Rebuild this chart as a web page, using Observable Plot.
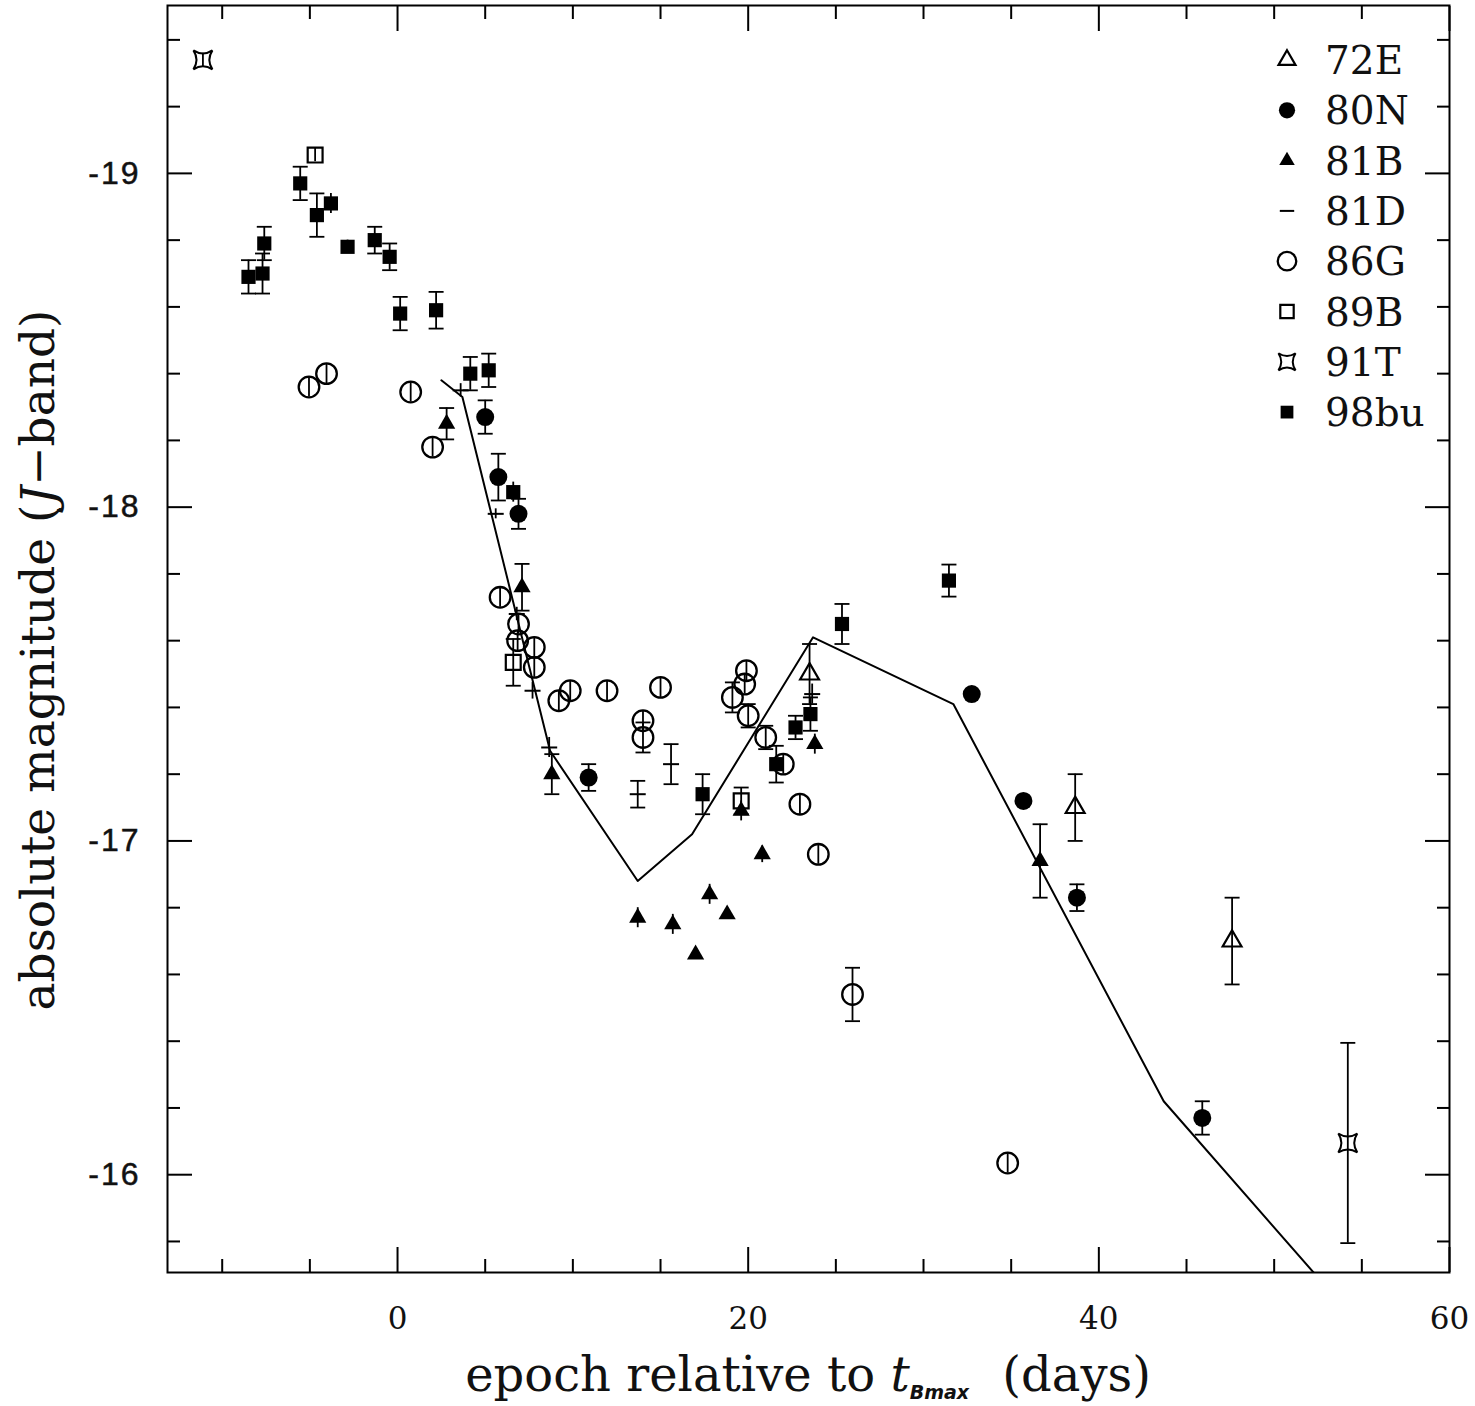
<!DOCTYPE html>
<html><head><meta charset="utf-8">
<script src="https://cdn.jsdelivr.net/npm/d3@7"></script>
<script src="https://cdn.jsdelivr.net/npm/@observablehq/plot@0.6"></script>
<style>
body{margin:0;background:#fff;}
#chart{width:1475px;height:1406px;}
g[aria-label="y-axis tick label"] text{font-family:"Liberation Sans",Arial,sans-serif;font-size:32px;letter-spacing:2px;fill:#111;stroke:#111;stroke-width:0.5px;}
g[aria-label="x-axis tick label"] text{font-family:"DejaVu Serif",serif;font-size:31px;fill:#111;}
</style></head><body><div id="chart"></div>
<script>
// ---- data: [epoch (days rel. to t_Bmax), J absolute magnitude, error] ----
const seriesNames = ["72E","80N","81B","81D","86G","89B","91T","98bu"];
const sn72E = [[23.5,-17.50,0.09],[38.65,-17.10,0.10],[47.6,-16.70,0.13]];
const sn80N = [[5.0,-18.27,0.05],[5.75,-18.09,0.07],[6.9,-17.98,0.045],[10.9,-17.19,0.04],[32.75,-17.44,0.02],[35.7,-17.12,0.02],[38.75,-16.83,0.04],[45.9,-16.17,0.05]];
const sn81B = [[2.8,-18.25,0.047],[7.1,-17.76,0.07],[8.8,-17.2,0.06],[13.7,-16.77,0.03],[15.7,-16.75,0.03],[17.0,-16.66,0.015],[17.8,-16.84,0.03],[18.8,-16.78,0.015],[19.6,-17.09,0.03],[20.8,-16.96,0.025],[23.8,-17.29,0.03],[36.65,-16.94,0.11]];
const sn81D = [[3.6,-18.35,0.02],[5.6,-17.98,0.015],[6.8,-17.68,0.02],[7.7,-17.45,0.025],[8.65,-17.28,0.03],[13.7,-17.14,0.04],[15.6,-17.23,0.06],[23.65,-17.44,0.03]];
const sn86G = [[-5.05,-18.36,0.03],[-4.05,-18.40,0.03],[0.75,-18.345,0.03],[2.0,-18.18,0.03],[5.85,-17.73,0.03],[6.9,-17.65,0.03],[6.85,-17.60,0.03],[7.8,-17.58,0.03],[7.8,-17.52,0.03],[9.2,-17.42,0.03],[9.85,-17.45,0.03],[11.95,-17.45,0.03],[14.0,-17.36,0.03],[14.0,-17.31,0.045],[15.0,-17.46,0.03],[19.1,-17.43,0.045],[19.9,-17.51,0.03],[19.8,-17.47,0.03],[20.0,-17.375,0.035],[21.0,-17.31,0.035],[22.0,-17.23,0.03],[22.95,-17.11,0.03],[24.0,-16.96,0.03],[25.95,-16.54,0.08],[34.8,-16.035,0.03]];
const sn89B = [[-4.7,-19.055,0.02],[6.6,-17.535,0.07],[19.6,-17.12,0.04]];
const sn91T = [[-11.1,-19.34,0.02],[54.2,-16.095,0.30]];
const sn98bu = [[-8.5,-18.69,0.05],[-7.7,-18.70,0.06],[-7.6,-18.79,0.05],[-5.55,-18.97,0.05],[-4.6,-18.875,0.065],[-3.8,-18.91,0.03],[-2.85,-18.78,0.02],[-1.3,-18.80,0.04],[-0.45,-18.75,0.04],[0.15,-18.58,0.05],[2.2,-18.59,0.055],[4.15,-18.40,0.05],[5.2,-18.41,0.05],[6.6,-18.045,0.03],[17.4,-17.14,0.06],[21.6,-17.23,0.055],[22.7,-17.34,0.035],[23.55,-17.38,0.05],[25.35,-17.65,0.06],[31.45,-17.78,0.048]];
// model template (solid line)
const modelEpoch = [2.5, 3.7, 8.7, 13.7, 16.8, 23.7, 31.7, 43.7, 53.2];
const modelMag = [-18.38, -18.33, -17.27, -16.88, -17.02, -17.61, -17.41, -16.22, -15.65];
// ticks
const xMajor = [0, 20, 40, 60];
const xMinor = [-10, -5, 5, 10, 15, 25, 30, 35, 45, 50, 55];
const yMajor = [-19, -18, -17, -16];
const yMinor = [-19.4, -19.2, -18.8, -18.6, -18.4, -18.2, -17.8, -17.6, -17.4, -17.2, -16.8, -16.6, -16.4, -16.2, -15.8];

// ---- symbols ----
const rOf = size => Math.sqrt(size / Math.PI);
const capSym = {draw(ctx, size){ const r = rOf(size); ctx.moveTo(-r, 0); ctx.lineTo(r, 0); }};
const dashSym = {draw(ctx, size){ const r = rOf(size); ctx.moveTo(-r, 0); ctx.lineTo(r, 0); }};
const starSym = {draw(ctx, size){ const s = rOf(size);
  ctx.moveTo(-s, -s); ctx.quadraticCurveTo(0, -s*0.35, s, -s);
  ctx.quadraticCurveTo(s*0.35, 0, s, s); ctx.quadraticCurveTo(0, s*0.35, -s, s);
  ctx.quadraticCurveTo(-s*0.35, 0, -s, -s); ctx.closePath(); }};

const styles = {
  "72E": {data: sn72E, symbol: d3.symbolTriangle, r: 7, fill: "none", stroke: "black", sw: 2.2},
  "80N": {data: sn80N, symbol: d3.symbolCircle, r: 9, fill: "black", stroke: "none", sw: 0},
  "81B": {data: sn81B, symbol: d3.symbolTriangle, r: 6.4, fill: "black", stroke: "none", sw: 0},
  "81D": {data: sn81D, symbol: dashSym, r: 8, fill: "none", stroke: "black", sw: 2},
  "86G": {data: sn86G, symbol: d3.symbolCircle, r: 10.3, fill: "none", stroke: "black", sw: 2.3},
  "89B": {data: sn89B, symbol: d3.symbolSquare, r: 8.4, fill: "none", stroke: "black", sw: 2.2},
  "91T": {data: sn91T, symbol: starSym, r: 9.5, fill: "none", stroke: "black", sw: 2},
  "98bu": {data: sn98bu, symbol: d3.symbolSquare, r: 8, fill: "black", stroke: "none", sw: 0}
};

const rows = seriesNames.flatMap(sn => styles[sn].data.map(([x, y, e]) => ({sn, x, y, e})));
const model = modelEpoch.map((x, i) => ({x, y: modelMag[i]}));
const capped = rows.filter(d => d.e > 0.031);

const tickOpts = {label: null, tickFormat: () => "", strokeWidth: 2};
const plot = Plot.plot({
  width: 1475, height: 1406,
  marginLeft: 167, marginRight: 26, marginTop: 5, marginBottom: 134,
  x: {domain: [-13.12, 60]},
  y: {domain: [-19.503, -15.707], reverse: true},
  style: {background: "white"},
  marks: [
    Plot.axisY({anchor: "left", ticks: yMajor, tickSize: 0, tickPadding: 27, tickFormat: d => String(d), label: null}),
    Plot.axisX({anchor: "bottom", ticks: xMajor, tickSize: 0, tickPadding: 34, tickFormat: d => String(d), label: null}),
    Plot.axisY({...tickOpts, anchor: "left", ticks: yMajor, tickSize: -25}),
    Plot.axisY({...tickOpts, anchor: "left", ticks: yMinor, tickSize: -13}),
    Plot.axisY({...tickOpts, anchor: "right", ticks: yMajor, tickSize: -25}),
    Plot.axisY({...tickOpts, anchor: "right", ticks: yMinor, tickSize: -13}),
    Plot.axisX({...tickOpts, anchor: "bottom", ticks: xMajor, tickSize: -25}),
    Plot.axisX({...tickOpts, anchor: "bottom", ticks: xMinor, tickSize: -13}),
    Plot.axisX({...tickOpts, anchor: "top", ticks: xMajor, tickSize: -25}),
    Plot.axisX({...tickOpts, anchor: "top", ticks: xMinor, tickSize: -13}),
    Plot.line(model, {x: "x", y: "y", stroke: "black", strokeWidth: 2, clip: true}),
    Plot.ruleX(rows, {x: "x", y1: d => d.y - d.e, y2: d => d.y + d.e, stroke: "black", strokeWidth: 1.8}),
    Plot.dot(capped, {x: "x", y: d => d.y - d.e, symbol: capSym, r: 7.5, stroke: "black", strokeWidth: 1.8, fill: "none"}),
    Plot.dot(capped, {x: "x", y: d => d.y + d.e, symbol: capSym, r: 7.5, stroke: "black", strokeWidth: 1.8, fill: "none"}),
    ...seriesNames.map(sn => {
      const s = styles[sn];
      return Plot.dot(rows.filter(d => d.sn === sn), {x: "x", y: "y", symbol: s.symbol, r: s.r,
        fill: s.fill, stroke: s.stroke, strokeWidth: s.sw});
    }),
    Plot.frame({stroke: "black", strokeWidth: 2})
  ]
});
document.getElementById("chart").appendChild(plot);

// ---- legend and axis titles ----
const svg = d3.select(plot);
const leg = svg.append("g").attr("class", "legend");
seriesNames.forEach((sn, i) => {
  const s = styles[sn];
  const cy = 60 + i * 50.3;
  leg.append("path")
    .attr("transform", `translate(1287,${cy})`)
    .attr("d", d3.symbol(s.symbol, Math.PI * (s.r * 0.9) ** 2)())
    .attr("fill", s.fill).attr("stroke", s.stroke).attr("stroke-width", s.sw || null);
  leg.append("text").attr("x", 1325).attr("y", cy).attr("dy", "0.36em").attr("text-anchor", "start")
    .attr("font-family", "DejaVu Serif, serif").attr("font-size", 39).attr("fill", "#111").text(sn);
});

const xl = svg.append("text").attr("x", 808).attr("y", 1391).attr("text-anchor", "middle")
  .attr("font-family", "DejaVu Serif, serif").attr("font-size", 48).attr("fill", "#111");
xl.append("tspan").text("epoch relative to ");
xl.append("tspan").attr("font-style", "italic").text("t");
xl.append("tspan").attr("font-family", "DejaVu Sans, sans-serif").attr("font-weight", "bold")
  .attr("font-style", "italic").attr("font-size", 19).attr("dy", 8).text("Bmax");
xl.append("tspan").attr("dy", -8).attr("dx", 18).text(" (days)");

const yl = svg.append("text").attr("transform", "translate(54,660) rotate(-90)").attr("text-anchor", "middle")
  .attr("font-family", "DejaVu Serif, serif").attr("font-size", 47).attr("fill", "#111");
yl.append("tspan").text("absolute magnitude (");
yl.append("tspan").attr("font-style", "italic").text("J");
yl.append("tspan").text("\u2212band)");
</script></body></html>
